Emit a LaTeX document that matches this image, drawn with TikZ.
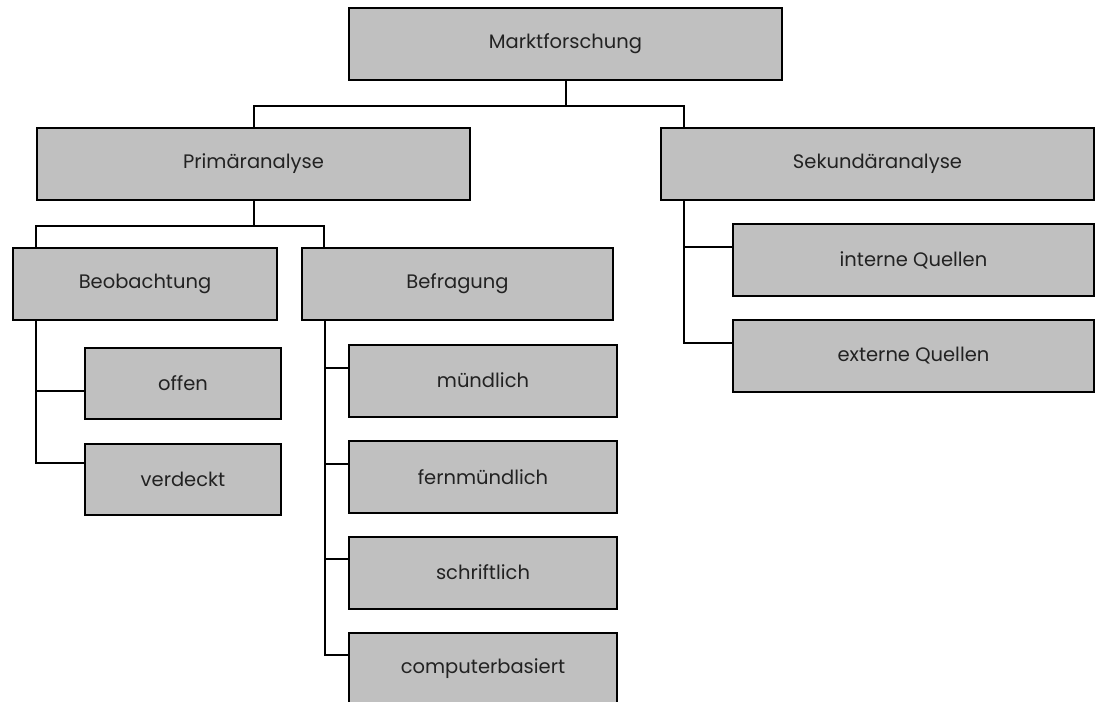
\documentclass[tikz,border=0pt]{standalone}
\usepackage{fontspec}
\setmainfont{Poppins}
\usepackage{tikz}
\usetikzlibrary{calc}
\definecolor{boxgray}{HTML}{C0C0C0}
\definecolor{txtgray}{HTML}{222222}
\tikzset{
  box/.style  = {draw, line width=2pt, fill=boxgray, inner sep=0pt,
                 minimum height=72, text=txtgray,
                 font=\fontsize{19.5}{23}\selectfont},
  wide/.style = {box, minimum width=433},
  mid/.style  = {box, minimum width=268},
  conn/.style = {line width=2pt},
}

\begin{document}
\begin{tikzpicture}[x=1pt, y=-1pt]
\useasboundingbox[fill=white] (0,0) rectangle (1096,702);

% top levels
\node[wide] (markt) at (565.5,44)  {Marktforschung};
\node[wide] (prim)  at (253.5,164) {Primäranalyse};
\node[wide] (sek)   at (877.5,164) {Sekundäranalyse};

% second level
\node[box, minimum width=264] (beob) at (145,284) {Beobachtung};
\node[box, minimum width=311] (befr) at (457.5,284) {Befragung};

% leaves
\node[box, minimum width=196, minimum height=71] (offen) at (183,383.5) {offen};
\node[box, minimum width=196, minimum height=71] (verd)  at (183,479.5) {verdeckt};
\node[mid] (muendl) at (483,380.5) {mündlich};
\node[mid] (fernm)  at (483,477)   {fernmündlich};
\node[mid] (schrift) at (483,572.5) {schriftlich};
\node[mid] (comp)   at (483,669)   {computerbasiert};
\node[box, minimum width=361] (intern) at (913.5,260) {interne Quellen};
\node[box, minimum width=361] (extern) at (913.5,356) {externe Quellen};

\draw[conn] (markt.south) -- ++(0,25) -| (prim.north);
\draw[conn] (markt.south) -- ++(0,25) -| ($(sek.north west)+(24,0)$);
\draw[conn] (prim.south) -- ++(0,25) -| ($(beob.north west)+(24,0)$);
\draw[conn] (prim.south) -- ++(0,25) -| ($(befr.north west)+(23,0)$);

\foreach \p/\c/\d in {beob/offen/44, beob/verd/20,
                      befr/muendl/24, befr/fernm/24, befr/schrift/23, befr/comp/23,
                      sek/intern/24, sek/extern/24}
  {\draw[conn] ($(\p.south west)+(24,0)$) |- ($(\c.north west)+(0,\d)$);}
\end{tikzpicture}
\end{document}
